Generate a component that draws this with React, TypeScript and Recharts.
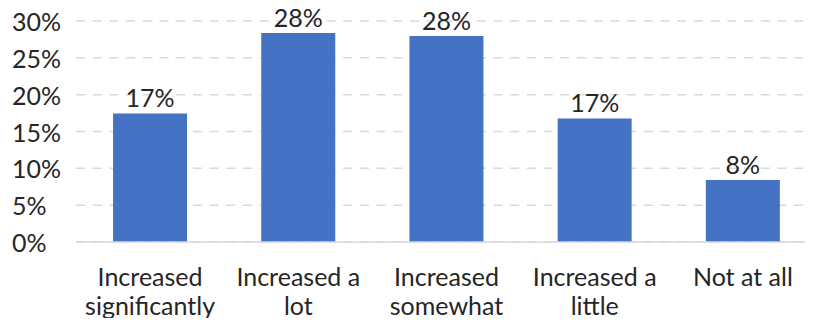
import { BarChart, Bar, XAxis, YAxis, CartesianGrid, ReferenceLine, LabelList } from 'recharts';

const categories = [
  'Increased significantly',
  'Increased a lot',
  'Increased somewhat',
  'Increased a little',
  'Not at all',
];
// two-line tick labels, as wrapped under each bar
const categoryLines = [
  ['Increased', 'significantly'],
  ['Increased a', 'lot'],
  ['Increased', 'somewhat'],
  ['Increased a', 'little'],
  ['Not at all'],
];
const shares = [17.45, 28.37, 27.97, 16.77, 8.4];
const yTicks = [0, 5, 10, 15, 20, 25, 30];

const data = categories.map((name, i) => ({ name, share: shares[i] }));

const FONT = 'Lato, "Noto Sans", sans-serif';
const SIZE = 25;
const TEXT = '#262626';

function YTick({ y, payload }: any) {
  return (
    <text x={12} y={y} dy={10} textAnchor="start" fontFamily={FONT} fontSize={SIZE} fill={TEXT}>
      {`${payload.value}%`}
    </text>
  );
}

function XTick({ x, y, index }: any) {
  const lines = categoryLines[index] || [];
  return (
    <text x={x} y={y} textAnchor="middle" fontFamily={FONT} fontSize={SIZE} fill={TEXT}>
      {lines.map((line, i) => (
        <tspan key={i} x={x} dy={i === 0 ? 36 : 29}>
          {line}
        </tspan>
      ))}
    </text>
  );
}

export default function App() {
  return (
    <div style={{ margin: -8, width: 813, height: 326, overflow: 'hidden', background: '#fff' }}>
      <BarChart
        width={817}
        height={326}
        data={data}
        margin={{ top: 21, right: 0, bottom: 0, left: 0 }}
        barCategoryGap="25%"
        style={{ overflow: 'visible' }}
      >
        <CartesianGrid vertical={false} stroke="#d9d9d9" strokeDasharray="9 7.7" strokeWidth={1.5} />
        <XAxis
          dataKey="name"
          height={84}
          axisLine={false}
          tickLine={false}
          interval={0}
          tick={<XTick />}
        />
        <YAxis
          width={76}
          domain={[0, 30]}
          ticks={yTicks}
          axisLine={false}
          tickLine={false}
          tick={<YTick />}
        />
        <ReferenceLine y={0} stroke="#d9d9d9" strokeWidth={1.5} />
        <Bar dataKey="share" fill="#4472C4" isAnimationActive={false}>
          <LabelList
            dataKey="share"
            position="top"
            offset={6}
            formatter={(v: any) => `${Math.round(v)}%`}
            style={{ fontFamily: FONT, fontSize: SIZE, fill: TEXT }}
          />
        </Bar>
      </BarChart>
    </div>
  );
}
